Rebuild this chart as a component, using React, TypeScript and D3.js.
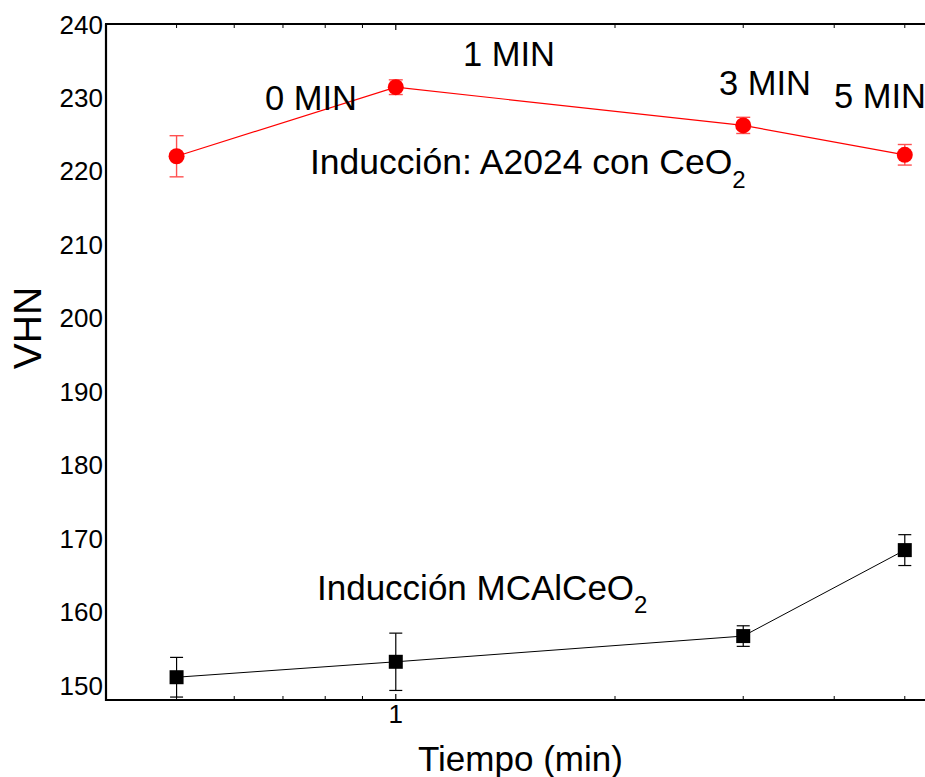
import React from "react";
import * as d3 from "d3";

const times = [0.5, 1, 3, 5];
const timeLabels = ["0 MIN", "1 MIN", "3 MIN", "5 MIN"];
const redValues = [222.0, 231.4, 226.2, 222.2];
const redErrors = [2.8, 1.0, 1.1, 1.4];
const blackValues = [151.1, 153.2, 156.7, 168.4];
const blackErrors = [2.7, 3.9, 1.4, 2.1];
const yTicks = [150, 160, 170, 180, 190, 200, 210, 220, 230, 240];
const xMinorTicks = [0.5, 0.6, 0.7, 0.8, 0.9, 2, 3, 4, 5];
const xMajorTicks = [1];

const FONT = "'Liberation Sans', Arial, Helvetica, sans-serif";

export default function App() {
  const W = 925, H = 777;
  const left = 106, right = 925, top = 24, bottom = 700;
  const x = d3.scaleLog().domain([0.4, 5.33]).range([left, right]);
  const y = d3.scaleLinear().domain([148, 240]).range([bottom, top]);
  const lineGen = d3.line<[number, number]>().x((d) => x(d[0])).y((d) => y(d[1]));
  const redPts: [number, number][] = times.map((t, i) => [t, redValues[i]]);
  const blackPts: [number, number][] = times.map((t, i) => [t, blackValues[i]]);
  const labelPos = [
    { x: 265, y: 110 },
    { x: 463, y: 66 },
    { x: 719, y: 95 },
    { x: 834, y: 108 },
  ];
  return (
    <svg width={W} height={H} style={{ position: "absolute", left: 0, top: 0, background: "#fff" }} fontFamily={FONT}>
      <rect x={0} y={0} width={W} height={H} fill="#fff" />
      {/* axes */}
      <line x1={left} y1={top} x2={left} y2={bottom + 1} stroke="#000" strokeWidth={2.2} />
      <line x1={left - 1} y1={top} x2={right} y2={top} stroke="#000" strokeWidth={2.2} />
      <line x1={left - 1} y1={bottom} x2={right} y2={bottom} stroke="#000" strokeWidth={2.2} />
      {xMinorTicks.map((t) => (
        <g key={"m" + t}>
          <line x1={x(t)} x2={x(t)} y1={bottom} y2={bottom - 4} stroke="#000" strokeWidth={1} />
          <line x1={x(t)} x2={x(t)} y1={top} y2={top + 4} stroke="#000" strokeWidth={1} />
        </g>
      ))}
      {xMajorTicks.map((t) => (
        <g key={"M" + t}>
          <line x1={x(t)} x2={x(t)} y1={bottom} y2={bottom - 6} stroke="#000" strokeWidth={1.2} />
          <line x1={x(t)} x2={x(t)} y1={top} y2={top + 6} stroke="#000" strokeWidth={1.2} />
          <text x={x(t)} y={723} fontSize={26} textAnchor="middle" fill="#000">{t}</text>
        </g>
      ))}
      {yTicks.map((v) => (
        <text key={v} x={103} y={y(v) + 9.5} fontSize={26} textAnchor="end" fill="#000">{v}</text>
      ))}
      <text x={418} y={771} fontSize={35} fill="#000">Tiempo (min)</text>
      <text transform={`translate(41, 328) rotate(-90)`} fontSize={39} textAnchor="middle" fill="#000">VHN</text>

      {/* red series */}
      <path d={lineGen(redPts) || ""} fill="none" stroke="#ff0000" strokeWidth={1.2} />
      {redPts.map((p, i) => (
        <g key={"r" + i} stroke="#ff5050" strokeWidth={1.4}>
          <line x1={x(p[0])} x2={x(p[0])} y1={y(p[1] - redErrors[i])} y2={y(p[1] + redErrors[i])} />
          <line x1={x(p[0]) - 7} x2={x(p[0]) + 7} y1={y(p[1] - redErrors[i])} y2={y(p[1] - redErrors[i])} />
          <line x1={x(p[0]) - 7} x2={x(p[0]) + 7} y1={y(p[1] + redErrors[i])} y2={y(p[1] + redErrors[i])} />
        </g>
      ))}
      {redPts.map((p, i) => (
        <circle key={"rc" + i} cx={x(p[0])} cy={y(p[1])} r={8} fill="#ff0000" />
      ))}

      {/* black series */}
      <path d={lineGen(blackPts) || ""} fill="none" stroke="#000" strokeWidth={1} />
      {blackPts.map((p, i) => (
        <g key={"b" + i} stroke="#000" strokeWidth={1.2}>
          <line x1={x(p[0])} x2={x(p[0])} y1={y(p[1] - blackErrors[i])} y2={y(p[1] + blackErrors[i])} />
          <line x1={x(p[0]) - 6.5} x2={x(p[0]) + 6.5} y1={y(p[1] - blackErrors[i])} y2={y(p[1] - blackErrors[i])} />
          <line x1={x(p[0]) - 6.5} x2={x(p[0]) + 6.5} y1={y(p[1] + blackErrors[i])} y2={y(p[1] + blackErrors[i])} />
        </g>
      ))}
      {blackPts.map((p, i) => (
        <rect key={"bs" + i} x={x(p[0]) - 7} y={y(p[1]) - 7} width={14} height={14} fill="#000" />
      ))}

      {/* annotations */}
      {timeLabels.map((l, i) => (
        <text key={l} x={labelPos[i].x} y={labelPos[i].y} fontSize={34.5} fill="#000">{l}</text>
      ))}
      <text x={310} y={174} fontSize={35.5} fill="#000">
        Inducción: A2024 con CeO<tspan fontSize={24} dy={14}>2</tspan>
      </text>
      <text x={317} y={600} fontSize={35} fill="#000">
        Inducción MCAlCeO<tspan fontSize={24} dy={13}>2</tspan>
      </text>
    </svg>
  );
}
